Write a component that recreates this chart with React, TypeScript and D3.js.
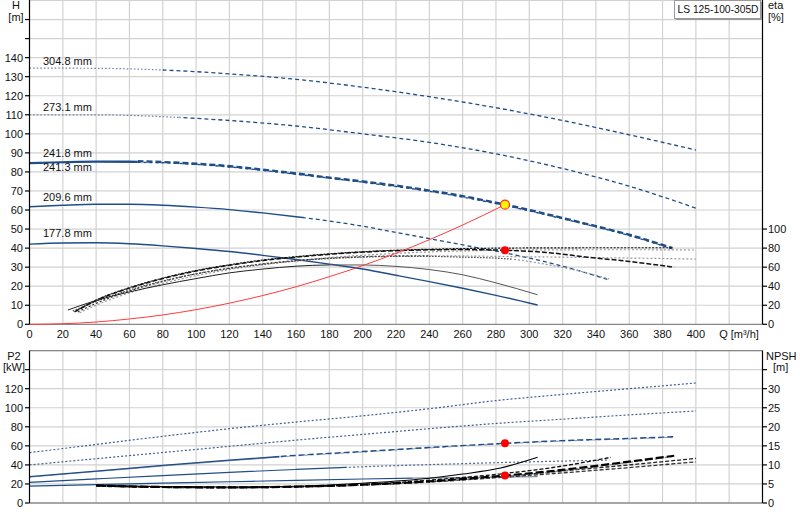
import React from 'react';
import * as d3 from 'd3';

type Pt = [number, number];

// Q axis ticks
const qTicks = [0, 20, 40, 60, 80, 100, 120, 140, 160, 180, 200, 220, 240, 260, 280, 300, 320, 340, 360, 380, 400];
const hTicks = [0, 10, 20, 30, 40, 50, 60, 70, 80, 90, 100, 110, 120, 130, 140];
const etaTicks = [0, 20, 40, 60, 80, 100];
const p2Ticks = [0, 20, 40, 60, 80, 100, 120];
const npshTicks = [0, 5, 10, 15, 20, 25, 30];

const diameterLabels = ['304.8 mm', '273.1 mm', '241.8 mm', '241.3 mm', '209.6 mm', '177.8 mm'];
const labelHeads = [136, 112, 88, 80.5, 64.5, 46];

// head curves H [m] vs Q [m3/h]
const headD304: Pt[] = [[0, 134.5], [40, 134.4], [80, 133.5], [120, 131.5], [160, 128.6], [200, 124.5], [240, 119.5], [280, 113.7], [320, 107], [360, 99.5], [400, 91.5]];
const headD273: Pt[] = [[0, 110], [40, 110], [80, 109], [120, 107], [160, 104.1], [200, 100], [240, 95.5], [280, 89.5], [320, 81.8], [360, 72.5], [400, 61]];
const headD2418: Pt[] = [[0, 84.8], [20, 85.3], [40, 85.6], [60, 85.6], [80, 85.2], [100, 84.3], [120, 83], [140, 81.2], [160, 79.2], [180, 77], [200, 75], [220, 72.8], [240, 70.2], [260, 67.3], [285.4, 62.8], [300, 60], [320, 55.8], [340, 51.5], [360, 47], [386, 40]];
const headD2413: Pt[] = [[0, 84.4], [40, 85.2], [80, 84.8], [120, 82.6], [160, 78.8], [200, 74.6], [240, 69.8], [285.4, 62.4], [320, 55.4], [360, 46.6], [386, 39.6]];
const headD2096: Pt[] = [[0, 61.7], [20, 62.5], [40, 63], [60, 63], [80, 62.5], [100, 61.5], [120, 60.2], [140, 58.5], [160, 56.5], [180, 54.2], [200, 51.5], [220, 48.2], [240, 45], [260, 41.7], [280, 38.4], [300, 34.8], [320, 30.5], [348, 23.3]];
const headD1778: Pt[] = [[0, 42.1], [20, 42.7], [40, 42.8], [60, 42.3], [80, 41.2], [100, 39.8], [120, 38.2], [140, 36.2], [160, 34], [180, 31.6], [200, 29], [222, 25.4], [240, 22.4], [260, 18.9], [280, 15.2], [305, 10.1]];
const systemCurve: Pt[] = [[0, 0], [20, 0.3], [40, 1.2], [60, 2.8], [80, 4.9], [100, 7.7], [120, 11.1], [140, 15.1], [160, 19.7], [180, 25], [200, 30.8], [220, 37.3], [240, 44.4], [260, 52.1], [285.4, 62.8]];

// efficiency curves eta [%]
const etaD304: Pt[] = [[30, 12], [40, 20], [60, 33], [80, 43], [100, 51], [120, 57.5], [140, 62.5], [160, 66.5], [180, 70], [200, 72.5], [220, 74.5], [240, 76], [260, 77], [285, 77.8], [320, 78.2], [360, 78.3], [400, 78]];
const etaD273: Pt[] = [[29, 13], [40, 22], [60, 35], [80, 45], [100, 53], [120, 59], [140, 63.5], [160, 67], [180, 69.5], [200, 71], [220, 71.8], [240, 72], [260, 71.8], [285, 71.2], [320, 70.5], [360, 69.6], [400, 68.5]];
const etaD2418: Pt[] = [[27, 13], [40, 25], [60, 38], [80, 48], [100, 56], [120, 62], [140, 67], [160, 70.5], [180, 73.5], [200, 75.8], [220, 77.3], [240, 78.2], [260, 78.5], [285.4, 77.7], [310, 75.5], [335, 70.5], [360, 66], [387, 60]];
const etaD2413: Pt[] = [[28, 14], [40, 25.5], [60, 38.5], [80, 48.5], [100, 56.5], [120, 62.5], [140, 67.5], [160, 71], [180, 74], [200, 76.2], [220, 77.8], [240, 78.8], [260, 79.5], [285, 80], [320, 80.3], [350, 80.4], [386, 80.4]];
const etaD2096: Pt[] = [[26, 14], [40, 24], [60, 36], [80, 45.5], [100, 53], [120, 58.5], [140, 63], [160, 66.5], [180, 69], [200, 70.5], [220, 71.3], [240, 71.3], [260, 70.5], [285, 69], [310, 63], [330, 56], [348, 47.6]];
const etaD1778: Pt[] = [[23, 15], [40, 25], [60, 34], [80, 41.5], [100, 48], [120, 54], [140, 58], [160, 61], [180, 62.3], [200, 62.3], [220, 60.8], [240, 57.5], [260, 52], [280, 43.5], [305, 31]];

// shaft power P2 [kW]
const powerD304: Pt[] = [[0, 52.8], [40, 61.5], [80, 70], [120, 78], [160, 85], [200, 91.5], [240, 99], [280, 107.5], [320, 114], [360, 120], [400, 126]];
const powerD273: Pt[] = [[0, 40], [40, 46.5], [80, 53], [120, 59.5], [160, 66], [200, 72], [240, 78], [280, 83.5], [320, 88], [360, 92.5], [400, 96.6]];
const powerD2418: Pt[] = [[0, 27.6], [40, 33.5], [80, 39.5], [120, 45], [160, 50], [200, 54], [240, 58.3], [285.4, 62.7], [320, 65.5], [360, 67.8], [387, 69.6]];
const powerD2413: Pt[] = [[0, 27.2], [40, 33], [80, 39], [120, 44.5], [160, 49.5], [200, 53.5], [240, 57.8], [285.4, 62.2], [320, 65], [360, 67.3], [386, 69]];
const powerD2096: Pt[] = [[0, 21.7], [40, 25.3], [80, 28.8], [120, 32.2], [160, 35.2], [200, 38], [240, 40.3], [280, 42.3], [320, 44], [348, 45]];
const powerD1778: Pt[] = [[0, 17.8], [40, 19.3], [80, 20.8], [120, 22.3], [160, 23.8], [200, 25.2], [240, 26.3], [280, 27.1], [305, 27.6]];

// NPSH [m]
const npshD304: Pt[] = [[40, 4.5], [80, 4.2], [120, 4.1], [160, 4.3], [200, 4.8], [240, 5.6], [285.4, 7], [320, 8.4], [360, 10], [400, 11.7]];
const npshD273: Pt[] = [[40, 4.4], [80, 4.1], [120, 4.0], [160, 4.2], [200, 4.7], [240, 5.5], [285.4, 6.8], [320, 7.9], [360, 9.3], [400, 10.8]];
const npshD2418: Pt[] = [[40, 4.6], [80, 4.2], [120, 4.1], [160, 4.3], [200, 4.8], [240, 5.7], [285.4, 7.2], [320, 8.7], [350, 10.3], [387, 12.4]];
const npshD2413: Pt[] = [[40, 4.5], [80, 4.1], [120, 4.0], [160, 4.2], [200, 4.7], [240, 5.6], [285.4, 7.0], [320, 8.5], [350, 10.1], [386, 12.2]];
const npshD2096: Pt[] = [[40, 4.5], [80, 4.2], [120, 4.1], [160, 4.3], [200, 4.9], [240, 6], [282, 7.6], [320, 9.7], [349, 12]];
const npshD1778: Pt[] = [[40, 4.6], [80, 4.3], [120, 4.2], [160, 4.4], [200, 5.2], [240, 6.5], [260, 7.6], [282, 9.1], [305, 12]];

// duty point
const dutyQ = 285.4;
const dutyH = 62.8;
const dutyEta = 77.7;
const dutyP2 = 62.7;
const dutyNpsh = 7.2;

const FONT = '"Liberation Sans", Arial, sans-serif';
const BLUE = '#1f4d87';

type Style = { stroke: string; width: number; dash?: string };
type Curve = { id: string; data: Pt[]; axis: 'h' | 'eta' | 'p' | 'npsh'; brk?: number; pre: Style; post?: Style };

const dotted = (c: string): Style => ({ stroke: c, width: 1.2, dash: '1.6,2' });

const curves: Curve[] = [
  { id: 'h304', data: headD304, axis: 'h', brk: 80, pre: dotted('#6d86aa'), post: { stroke: BLUE, width: 1.3, dash: '4,3' } },
  { id: 'h273', data: headD273, axis: 'h', brk: 90, pre: dotted('#6d86aa'), post: { stroke: BLUE, width: 1.3, dash: '4,3' } },
  { id: 'h2413', data: headD2413, axis: 'h', brk: 65, pre: { stroke: BLUE, width: 1.3 }, post: { stroke: BLUE, width: 1.4, dash: '3,3' } },
  { id: 'h2418', data: headD2418, axis: 'h', brk: 65, pre: { stroke: BLUE, width: 1.4 }, post: { stroke: BLUE, width: 2.4, dash: '6,3' } },
  { id: 'h2096', data: headD2096, axis: 'h', brk: 165, pre: { stroke: BLUE, width: 1.4 }, post: { stroke: BLUE, width: 1.3, dash: '4,3' } },
  { id: 'h1778', data: headD1778, axis: 'h', pre: { stroke: BLUE, width: 1.4 } },
  { id: 'e304', data: etaD304, axis: 'eta', pre: { stroke: '#9a9a9a', width: 1.2, dash: '2,2' } },
  { id: 'e273', data: etaD273, axis: 'eta', brk: 240, pre: { stroke: '#333', width: 1.2, dash: '2,2' }, post: { stroke: '#999', width: 1.2, dash: '2,2' } },
  { id: 'e2096', data: etaD2096, axis: 'eta', brk: 290, pre: { stroke: '#444', width: 1.2, dash: '1.5,1.5' }, post: { stroke: '#999', width: 1.2, dash: '2,2' } },
  { id: 'e2413', data: etaD2413, axis: 'eta', pre: { stroke: '#111', width: 1.2, dash: '2,1.5' } },
  { id: 'e2418', data: etaD2418, axis: 'eta', pre: { stroke: '#111', width: 1.5, dash: '5,2' } },
  { id: 'e1778', data: etaD1778, axis: 'eta', brk: 180, pre: { stroke: '#222', width: 1 }, post: { stroke: '#555', width: 1 } },
  { id: 'p304', data: powerD304, axis: 'p', pre: { stroke: '#3e6193', width: 1.2, dash: '2,2' } },
  { id: 'p273', data: powerD273, axis: 'p', pre: { stroke: '#3e6193', width: 1.2, dash: '2,2' } },
  { id: 'p2413', data: powerD2413, axis: 'p', brk: 150, pre: { stroke: '#8a9bb5', width: 1.1 }, post: { stroke: '#8a9bb5', width: 1.1, dash: '3,3' } },
  { id: 'p2418', data: powerD2418, axis: 'p', brk: 150, pre: { stroke: BLUE, width: 1.3 }, post: { stroke: BLUE, width: 1.4, dash: '6,3' } },
  { id: 'p2096', data: powerD2096, axis: 'p', brk: 190, pre: { stroke: BLUE, width: 1.2 }, post: { stroke: '#4d6a96', width: 1.2, dash: '2,2' } },
  { id: 'p1778', data: powerD1778, axis: 'p', brk: 230, pre: { stroke: BLUE, width: 1.2 }, post: { stroke: '#7f8fa8', width: 1.2 } },
  { id: 'n304', data: npshD304, axis: 'npsh', pre: { stroke: '#222', width: 1.3, dash: '4,2' } },
  { id: 'n273', data: npshD273, axis: 'npsh', pre: { stroke: '#333', width: 1.3, dash: '4,2' } },
  { id: 'n2413', data: npshD2413, axis: 'npsh', pre: { stroke: '#888', width: 1.4, dash: '3,2' } },
  { id: 'n2096', data: npshD2096, axis: 'npsh', pre: { stroke: '#111', width: 1.3, dash: '4,2' } },
  { id: 'n2418', data: npshD2418, axis: 'npsh', pre: { stroke: '#000', width: 2.2, dash: '8,3' } },
  { id: 'n1778', data: npshD1778, axis: 'npsh', pre: { stroke: '#000', width: 1.1 } },
];

export default function App() {
  const x = d3.scaleLinear().domain([0, 440]).range([29.5, 762.5]);
  const yH = d3.scaleLinear().domain([0, 170]).range([324.3, 0.5]);
  const yEta = d3.scaleLinear().domain([0, 340]).range([324.3, 0.5]);
  const yP = d3.scaleLinear().domain([0, 160]).range([503, 350.6]);
  const yN = d3.scaleLinear().domain([0, 40]).range([503, 350.6]);
  const scales = { h: yH, eta: yEta, p: yP, npsh: yN };

  const pathFor = (c: Curve) =>
    d3.line<Pt>().x(d => x(d[0])).y(d => scales[c.axis](d[1])).curve(d3.curveMonotoneX)(c.data) || '';

  const gridQ = d3.range(20, 440, 20);
  const gridH = d3.range(10, 180, 10);
  const gridP = d3.range(20, 180, 20);

  const txt = { fontFamily: FONT, fontSize: 11, fill: '#111' } as const;
  const L = x(0), R = x(440);

  return (
    <svg width={800} height={520} style={{ position: 'absolute', left: 0, top: 0, background: '#fff' }}>
      <defs>
        {curves.filter(c => c.brk !== undefined).map(c => (
          <React.Fragment key={c.id}>
            <clipPath id={`ca-${c.id}`}><rect x={0} y={0} width={x(c.brk as number)} height={520} /></clipPath>
            <clipPath id={`cb-${c.id}`}><rect x={x(c.brk as number)} y={0} width={800} height={520} /></clipPath>
          </React.Fragment>
        ))}
      </defs>

      {/* grids */}
      <g stroke="#d2d2d2" strokeWidth={1.2}>
        {gridQ.map(q => <line key={'vq' + q} x1={x(q)} x2={x(q)} y1={yH(170)} y2={yH(0)} />)}
        {gridH.map(h => <line key={'hh' + h} x1={L} x2={R} y1={yH(h)} y2={yH(h)} />)}
        {gridQ.map(q => <line key={'vp' + q} x1={x(q)} x2={x(q)} y1={yP(160)} y2={yP(0)} />)}
        {gridP.map(p => <line key={'hp' + p} x1={L} x2={R} y1={yP(p)} y2={yP(p)} />)}
      </g>
      <line x1={L} x2={R} y1={yH(0)} y2={yH(0)} stroke="#888" strokeWidth={1.3} />
      <line x1={L} x2={R} y1={yP(0)} y2={yP(0)} stroke="#888" strokeWidth={1.3} />
      <line x1={L} x2={R} y1={yP(160)} y2={yP(160)} stroke="#888" strokeWidth={1.2} />

      {/* curves */}
      {curves.map(c => {
        const d = pathFor(c);
        const st = (s: Style, clip?: string) => (
          <path d={d} fill="none" stroke={s.stroke} strokeWidth={s.width} strokeDasharray={s.dash}
            clipPath={clip ? `url(#${clip})` : undefined} />
        );
        return (
          <g key={c.id}>
            {c.brk !== undefined ? (
              <>
                {st(c.pre, `ca-${c.id}`)}
                {st(c.post || c.pre, `cb-${c.id}`)}
              </>
            ) : st(c.pre)}
          </g>
        );
      })}
      <path d={d3.line<Pt>().x(d => x(d[0])).y(d => yH(d[1])).curve(d3.curveMonotoneX)(systemCurve) || ''}
        fill="none" stroke="#ff3b3b" strokeWidth={1} />

      {/* duty points */}
      <circle cx={x(dutyQ)} cy={yH(dutyH)} r={4.5} fill="#fff200" stroke="#ff2a2a" strokeWidth={1.2} />
      <circle cx={x(dutyQ)} cy={yEta(dutyEta)} r={4} fill="#ff0000" />
      <circle cx={x(dutyQ)} cy={yP(dutyP2)} r={4} fill="#ff0000" />
      <circle cx={x(dutyQ)} cy={yN(dutyNpsh)} r={4} fill="#ff0000" />

      {/* diameter labels */}
      {diameterLabels.map((t, i) => (
        <text key={t} x={43} y={yH(labelHeads[i])} {...txt}>{t}</text>
      ))}

      {/* axes */}
      <g stroke="#000" strokeWidth={1.2}>
        <line x1={L} x2={L} y1={0} y2={yH(0)} />
        <line x1={R} x2={R} y1={0} y2={yH(0)} />
        <line x1={L} x2={L} y1={yP(160)} y2={yP(0)} />
        <line x1={R} x2={R} y1={yP(160)} y2={yP(0)} />
        {d3.range(0, 170, 10).map(h => <line key={'th' + h} x1={L - 4.5} x2={L} y1={yH(h)} y2={yH(h)} />)}
        {etaTicks.map(e => <line key={'te' + e} x1={R} x2={R + 4.5} y1={yEta(e)} y2={yEta(e)} />)}
        {d3.range(0, 160, 20).map(p => <line key={'tp' + p} x1={L - 4.5} x2={L} y1={yP(p)} y2={yP(p)} />)}
        {d3.range(0, 40, 5).map(n => <line key={'tn' + n} x1={R} x2={R + 4.5} y1={yN(n)} y2={yN(n)} />)}
      </g>
      {hTicks.map(h => <text key={'lh' + h} x={23} y={yH(h) + 4} textAnchor="end" {...txt}>{h}</text>)}
      {etaTicks.map(e => <text key={'le' + e} x={768} y={yEta(e) + 4} {...txt}>{e}</text>)}
      {p2Ticks.map(p => <text key={'lp' + p} x={23} y={yP(p) + 4} textAnchor="end" {...txt}>{p}</text>)}
      {npshTicks.map(n => <text key={'ln' + n} x={768} y={yN(n) + 4} {...txt}>{n}</text>)}
      {qTicks.map(q => <text key={'lq' + q} x={x(q)} y={338} textAnchor="middle" {...txt}>{q}</text>)}
      <text x={739} y={338} textAnchor="middle" {...txt}>Q [m³/h]</text>

      <text x={16} y={9} textAnchor="middle" {...txt}>H</text>
      <text x={16} y={21} textAnchor="middle" {...txt}>[m]</text>
      <text x={768} y={9} {...txt}>eta</text>
      <text x={768} y={21} {...txt}>[%]</text>
      <text x={14} y={360} textAnchor="middle" {...txt}>P2</text>
      <text x={14} y={371} textAnchor="middle" {...txt}>[kW]</text>
      <text x={766} y={360} {...txt}>NPSH</text>
      <text x={773} y={371} {...txt}>[m]</text>

      {/* title box */}
      <rect x={676} y={2} width={86} height={18} fill="#999" />
      <rect x={674.5} y={0.5} width={86} height={18} fill="#fff" stroke="#999" />
      <text x={677.5} y={13} textLength={81} lengthAdjust="spacingAndGlyphs" {...txt}>LS 125-100-305D</text>
    </svg>
  );
}
